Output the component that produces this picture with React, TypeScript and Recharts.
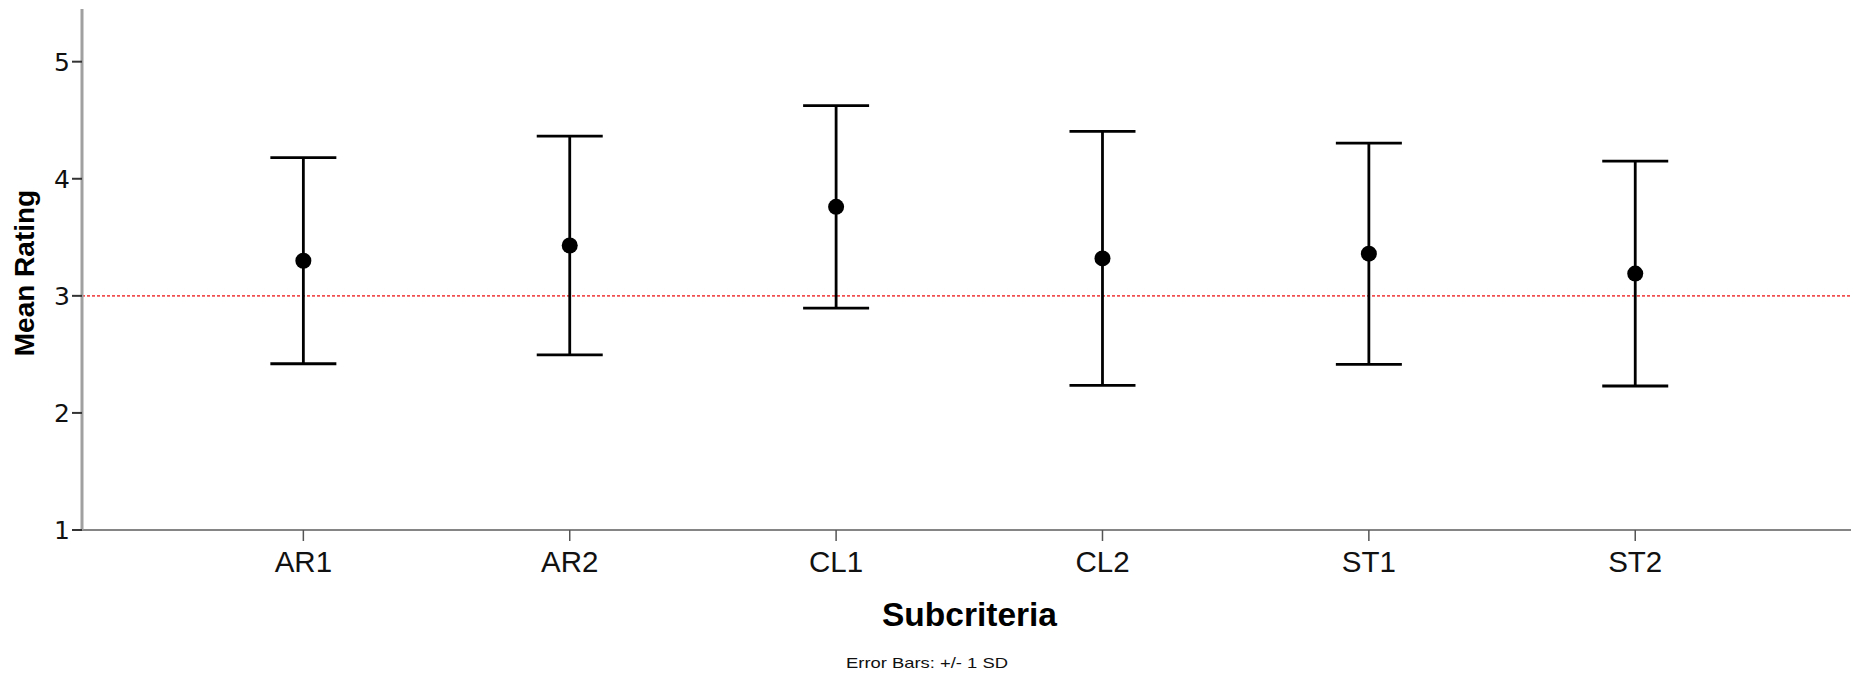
import { ScatterChart, Scatter, XAxis, YAxis, ErrorBar, ReferenceLine, Label } from 'recharts';

const categories = ['AR1', 'AR2', 'CL1', 'CL2', 'ST1', 'ST2'];
const means = [3.30, 3.43, 3.76, 3.32, 3.36, 3.19];
const sds = [0.88, 0.935, 0.865, 1.085, 0.945, 0.96];
const yTicks = [1, 2, 3, 4, 5];
const midpoint = 3;

const data = categories.map((name, i) => ({ x: i + 1, name, mean: means[i], sd: sds[i] }));

const Dot = (props: any) => {
    const { cx, cy } = props;
    if (cx == null || cy == null) return null;
    return <circle cx={cx} cy={cy} r={8} fill="#000" />;
};

// axis titles drawn from the axis viewBox
const XTitle = ({ viewBox }: any) => (
    <text x={viewBox.x + viewBox.width / 2 + 3} y={viewBox.y + 96} textAnchor="middle"
        style={{ fontFamily: 'Liberation Sans, Arial, sans-serif', fontSize: 33.5, fontWeight: 700, fill: '#000' }}>
        Subcriteria
    </text>
);

const Note = ({ viewBox }: any) => (
    <text x={927} y={viewBox.y + 138} textAnchor="middle" textLength={162} lengthAdjust="spacingAndGlyphs"
        style={{ fontFamily: 'Liberation Sans, Arial, sans-serif', fontSize: 14.5, fill: '#111' }}>
        Error Bars: +/- 1 SD
    </text>
);

const YTitle = () => (
    <text x={34} y={273} transform="rotate(-90 34 273)" textAnchor="middle"
        style={{ fontFamily: 'Liberation Sans, Arial, sans-serif', fontSize: 28, fontWeight: 700, fill: '#000' }}>
        Mean Rating
    </text>
);

const App = () => {
    return (
        <div style={{ position: 'absolute', left: 0, top: 0, width: 1851, height: 674, background: '#fff' }}>
            <ScatterChart width={1851} height={674} margin={{ top: 9, right: 0, bottom: 0, left: 0 }}>
                <XAxis
                    type="number"
                    dataKey="x"
                    domain={[0.169, 6.81]}
                    ticks={[1, 2, 3, 4, 5, 6]}
                    tickFormatter={(v: number) => categories[v - 1]}
                    height={144}
                    tickSize={11}
                    tickMargin={10}
                    axisLine={{ stroke: '#858585', strokeWidth: 2 }}
                    tickLine={{ stroke: '#555', strokeWidth: 1.5 }}
                    tick={{ fill: '#111', fontSize: 29.5, fontFamily: 'Liberation Sans, Arial, sans-serif' }}
                    allowDataOverflow
                >
                    <Label content={<XTitle />} />
                    <Label content={<Note />} />
                </XAxis>
                <YAxis
                    type="number"
                    dataKey="mean"
                    domain={[1, 5.45]}
                    ticks={yTicks}
                    width={82}
                    tickSize={10}
                    tickMargin={2}
                    axisLine={{ stroke: '#a0a0a0', strokeWidth: 3 }}
                    tickLine={{ stroke: '#333', strokeWidth: 2 }}
                    tick={{ fill: '#111', fontSize: 25, fontFamily: 'DejaVu Sans, sans-serif' }}
                    allowDataOverflow
                >
                    <Label content={<YTitle />} />
                </YAxis>
                <ReferenceLine y={midpoint} stroke="#f25050" strokeWidth={1.8} strokeDasharray="3 2" />
                <Scatter data={data} dataKey="mean" shape={<Dot />} isAnimationActive={false}>
                    <ErrorBar dataKey="sd" direction="y" width={33} stroke="#000" strokeWidth={2.8} />
                </Scatter>
            </ScatterChart>
        </div>
    );
};

export default App;
